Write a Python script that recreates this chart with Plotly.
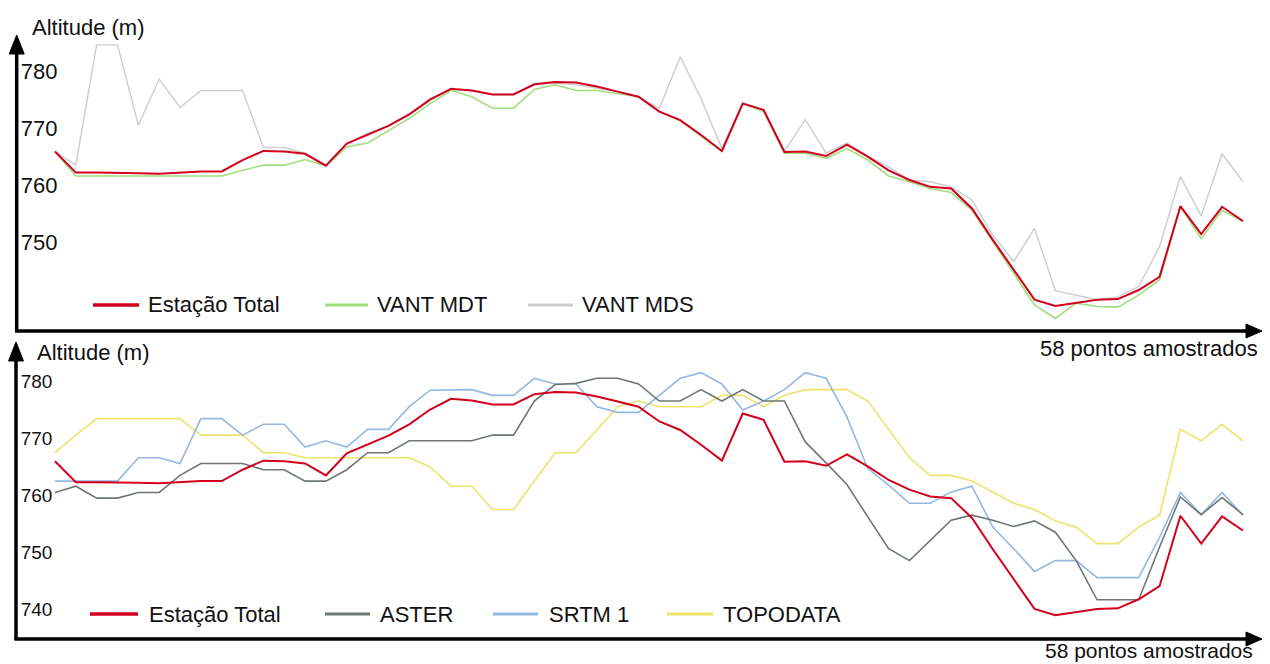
import plotly.graph_objects as go

# ---------------- data ----------------
n_points = 58
pontos = list(range(n_points))

estacao_total = [766.0, 762.3, 762.3, 762.3, 762.2, 762.1, 762.3, 762.5, 762.5, 764.5,
                 766.1, 766.0, 765.6, 763.5, 767.4, 768.9, 770.5, 772.5, 775.1, 777.0,
                 776.7, 776.0, 776.0, 777.8, 778.2, 778.1, 777.4, 776.5, 775.6, 773.0,
                 771.5, 768.9, 766.1, 774.4, 773.3, 765.9, 766.0, 765.2, 767.2, 765.1,
                 762.7, 761.0, 759.8, 759.5, 756.0, 750.5, 745.2, 740.0, 738.9, 739.4,
                 740.0, 740.1, 741.7, 744.0, 756.4, 751.5, 756.3, 753.8]

vant_mdt = [766.0, 761.7, 761.7, 761.7, 761.7, 761.7, 761.7, 761.7, 761.7, 762.7,
            763.6, 763.6, 764.6, 763.5, 766.8, 767.5, 769.6, 771.8, 774.4, 776.7,
            775.6, 773.6, 773.6, 776.9, 777.7, 776.7, 776.7, 776.1, 775.6, 773.0,
            771.4, 768.7, 766.0, 774.4, 773.0, 765.7, 765.7, 764.8, 766.5, 764.5,
            761.7, 760.7, 759.5, 758.8, 755.7, 750.2, 744.6, 739.1, 736.7, 739.4,
            738.8, 738.7, 740.8, 743.5, 756.3, 750.7, 755.7, 753.7]

vant_mds = [766.0, 763.6, 784.7, 784.7, 770.6, 778.7, 773.7, 776.7, 776.7, 776.7,
            766.7, 766.7, 765.7, 763.5, 767.4, 769.2, 770.5, 772.7, 775.3, 776.8,
            776.7, 776.0, 776.0, 777.7, 778.0, 777.7, 777.1, 776.5, 775.6, 773.6,
            782.6, 775.3, 766.5, 774.6, 773.3, 766.0, 771.6, 765.7, 767.5, 765.2,
            763.3, 761.0, 760.7, 759.8, 757.5, 751.3, 746.7, 752.5, 741.6, 740.8,
            740.0, 740.5, 742.3, 749.3, 761.6, 754.7, 765.6, 760.7]

aster = [760.5, 761.6, 759.5, 759.5, 760.5, 760.5, 763.5, 765.6, 765.6, 765.6,
         764.5, 764.5, 762.5, 762.5, 764.5, 767.5, 767.5, 769.6, 769.6, 769.6,
         769.6, 770.6, 770.6, 776.6, 779.5, 779.7, 780.6, 780.6, 779.6, 776.6,
         776.6, 778.6, 776.6, 778.6, 776.6, 776.6, 769.4, 765.7, 761.9, 756.2,
         750.6, 748.5, 752.1, 755.6, 756.5, 755.6, 754.5, 755.5, 753.5, 748.5,
         741.6, 741.6, 741.6, 750.9, 759.7, 756.6, 759.6, 756.6]

srtm1 = [762.5, 762.5, 762.5, 762.5, 766.6, 766.6, 765.6, 773.5, 773.5, 770.6,
         772.5, 772.5, 768.5, 769.6, 768.5, 771.6, 771.6, 775.6, 778.5, 778.6,
         778.6, 777.6, 777.6, 780.6, 779.6, 779.6, 775.6, 774.6, 774.6, 777.6,
         780.6, 781.6, 779.6, 775.0, 776.6, 778.6, 781.6, 780.6, 773.8, 764.7,
         761.8, 758.6, 758.6, 760.6, 761.6, 754.4, 750.6, 746.6, 748.5, 748.5,
         745.5, 745.5, 745.5, 752.6, 760.5, 756.6, 760.5, 756.5]

topodata = [767.5, 770.6, 773.5, 773.5, 773.5, 773.5, 773.5, 770.6, 770.6, 770.6,
            767.5, 767.5, 766.6, 766.6, 766.6, 766.6, 766.6, 766.6, 765.0, 761.6,
            761.6, 757.5, 757.5, 762.5, 767.5, 767.5, 771.6, 775.6, 776.6, 775.6,
            775.6, 775.6, 777.6, 777.6, 775.6, 777.6, 778.6, 778.6, 778.6, 776.6,
            771.6, 766.6, 763.5, 763.5, 762.5, 760.6, 758.6, 757.5, 755.5, 754.4,
            751.5, 751.5, 754.4, 756.5, 771.6, 769.6, 772.5, 769.6]

top_ticks = [750, 760, 770, 780]
bottom_ticks = [740, 750, 760, 770, 780]

y_title = "Altitude (m)"
x_title = "58 pontos amostrados"

top_names = ["Estação Total", "VANT MDT", "VANT MDS"]
bottom_names = ["Estação Total", "ASTER", "SRTM 1", "TOPODATA"]

# ---------------- style ----------------
W, H = 1270, 664
FONT = "Liberation Sans, Arial, sans-serif"
C_RED = "#d2001e"
C_MDT = "#a0df7c"
C_MDS = "#cdcdcd"
C_ASTER = "#6e7773"
C_SRTM = "#94b8e2"
C_TOPO = "#eee36a"


def px(x):
    return x / W


def py(y):
    return 1 - y / H


fig = go.Figure()

# top panel
fig.add_trace(go.Scatter(x=pontos, y=vant_mds, mode="lines", name=top_names[2],
                         line=dict(color=C_MDS, width=1.4), xaxis="x", yaxis="y"))
fig.add_trace(go.Scatter(x=pontos, y=vant_mdt, mode="lines", name=top_names[1],
                         line=dict(color=C_MDT, width=1.6), xaxis="x", yaxis="y"))
fig.add_trace(go.Scatter(x=pontos, y=estacao_total, mode="lines", name=top_names[0],
                         line=dict(color=C_RED, width=2), xaxis="x", yaxis="y"))

# bottom panel
fig.add_trace(go.Scatter(x=pontos, y=topodata, mode="lines", name=bottom_names[3],
                         line=dict(color=C_TOPO, width=1.6), xaxis="x2", yaxis="y2"))
fig.add_trace(go.Scatter(x=pontos, y=srtm1, mode="lines", name=bottom_names[2],
                         line=dict(color=C_SRTM, width=1.6), xaxis="x2", yaxis="y2"))
fig.add_trace(go.Scatter(x=pontos, y=aster, mode="lines", name=bottom_names[1],
                         line=dict(color=C_ASTER, width=1.6), xaxis="x2", yaxis="y2"))
fig.add_trace(go.Scatter(x=pontos, y=estacao_total, mode="lines", name=bottom_names[0],
                         line=dict(color=C_RED, width=2), xaxis="x2", yaxis="y2"))

xr = [-2.639, 58.30]
common_y = dict(showgrid=False, zeroline=False, showline=False, ticks="",
                ticklabelposition="inside", anchor="free", position=px(16.7))

fig.update_layout(
    width=W, height=H,
    margin=dict(l=0, r=0, t=0, b=0),
    paper_bgcolor="white", plot_bgcolor="white",
    showlegend=False,
    xaxis=dict(domain=[0, 1], range=xr, visible=False, anchor="y"),
    xaxis2=dict(domain=[0, 1], range=xr, visible=False, anchor="y2"),
    yaxis=dict(domain=[0.5, 1], range=[734.33, 792.58], tickvals=top_ticks,
               tickfont=dict(family=FONT, color="#111111", size=22), **common_y),
    yaxis2=dict(domain=[0, 0.5], range=[730.30, 788.75], tickvals=bottom_ticks,
                tickfont=dict(family=FONT, color="#111111", size=19), **common_y),
)

shapes = []
LW = 3.5


def line(x0, y0, x1, y1, color="black", width=LW):
    shapes.append(dict(type="line", xref="paper", yref="paper",
                       x0=px(x0), y0=py(y0), x1=px(x1), y1=py(y1),
                       line=dict(color=color, width=width)))


def tri(pts):
    p = "M " + " L ".join(f"{px(a)},{py(b)}" for a, b in pts) + " Z"
    shapes.append(dict(type="path", xref="paper", yref="paper", path=p,
                       fillcolor="black", line=dict(color="black", width=1)))


# top axes
line(16.7, 332, 16.7, 50)
tri([(16.7, 35), (9.2, 54), (24.2, 54)])
line(15, 331, 1249, 331)
tri([(1262, 331), (1246, 324), (1246, 338)])
# bottom axes
line(16, 640, 16, 357)
tri([(16, 342), (8.5, 361), (23.5, 361)])
line(14.5, 639, 1249, 639)
tri([(1262, 639), (1246, 632), (1246, 646)])

# legend samples
line(93, 305, 139, 305, C_RED, 3.5)
line(325, 305, 368, 305, C_MDT, 3)
line(528, 305, 573, 305, C_MDS, 3)
line(90, 614, 138, 614, C_RED, 3.5)
line(325, 614, 370, 614, C_ASTER, 3)
line(493, 614, 538, 614, C_SRTM, 3)
line(667, 614, 713, 614, C_TOPO, 3)

fig.update_layout(shapes=shapes)

ann = []


def text(t, x, y, anchor="left", size=22):
    ann.append(dict(text=t, xref="paper", yref="paper", x=px(x), y=py(y),
                    xanchor=anchor, yanchor="middle", showarrow=False,
                    borderpad=0,
                    font=dict(family=FONT, size=size, color="#111111")))


text(y_title, 31, 28)
text(y_title, 36, 353)
text(x_title, 1259, 348, "right")
text(x_title, 1254, 650, "right", size=21)
text(top_names[0], 147, 305)
text(top_names[1], 376, 305)
text(top_names[2], 581, 305)
text(bottom_names[0], 148, 614)
text(bottom_names[1], 379, 614)
text(bottom_names[2], 548, 614)
text(bottom_names[3], 722, 614)

fig.update_layout(annotations=ann)

fig.write_html(
    "out.html",
    config={"displayModeBar": False},
    post_script="document.body.style.margin='0';document.body.style.overflow='hidden';",
)
